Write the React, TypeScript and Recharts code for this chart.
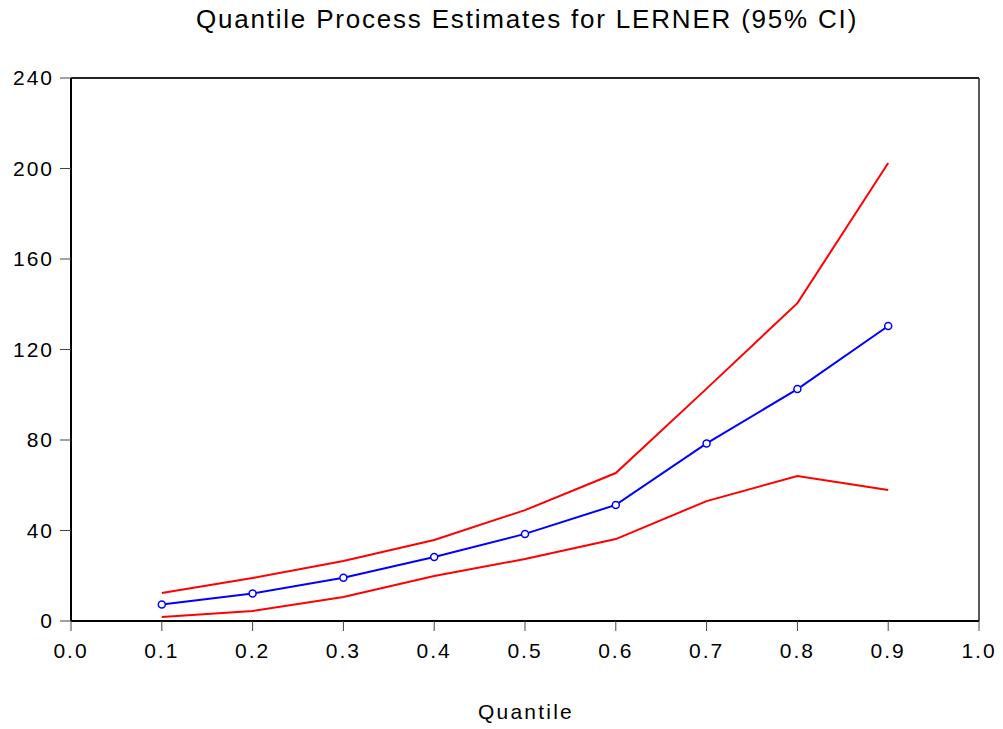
import React from "react";
import { LineChart, Line, XAxis, YAxis } from "recharts";

const quantiles = [0.1, 0.2, 0.3, 0.4, 0.5, 0.6, 0.7, 0.8, 0.9];
const estimate = [7.3, 12.2, 19.1, 28.3, 38.5, 51.3, 78.5, 102.5, 130.4];
const upperCI = [12.4, 19.0, 26.5, 35.8, 49.0, 65.4, 102.7, 140.5, 202.4];
const lowerCI = [1.8, 4.4, 10.6, 19.9, 27.4, 36.2, 53.0, 64.1, 57.9];
const xTicks = [0, 0.1, 0.2, 0.3, 0.4, 0.5, 0.6, 0.7, 0.8, 0.9, 1.0];
const yTicks = [0, 40, 80, 120, 160, 200, 240];

const data = quantiles.map((q, i) => ({
  q,
  est: estimate[i],
  hi: upperCI[i],
  lo: lowerCI[i],
}));

const FONT = "'Liberation Sans', Arial, sans-serif";

export default function App() {
  return (
    <div style={{ position: "absolute", left: 0, top: 0, width: 1003, height: 729, background: "#fff", fontFamily: FONT }}>
      <div
        style={{
          position: "absolute",
          top: 4,
          left: 0,
          width: 1054,
          textAlign: "center",
          fontSize: 26,
          lineHeight: "30px",
          letterSpacing: 1.8,
          color: "#000",
        }}
      >
        Quantile Process Estimates for LERNER (95% CI)
      </div>
      <div
        style={{
          position: "absolute",
          top: 700,
          left: 0,
          width: 1052,
          textAlign: "center",
          fontSize: 21,
          lineHeight: "24px",
          letterSpacing: 2.2,
          color: "#000",
        }}
      >
        Quantile
      </div>
      <LineChart
        width={1003}
        height={729}
        data={data}
        margin={{ top: 77, right: 23, bottom: 58, left: 11 }}
        style={{ fontFamily: FONT, position: "absolute", left: 0, top: 0 }}
      >
        <XAxis
          xAxisId="b"
          dataKey="q"
          type="number"
          domain={[0, 1]}
          ticks={xTicks}
          tickFormatter={(v: number) => v.toFixed(1)}
          axisLine={{ stroke: "#000", strokeWidth: 2 }}
          tickLine={{ stroke: "#444", strokeWidth: 1 }}
          tickSize={10}
          tick={{ fill: "#000", fontSize: 21, letterSpacing: 2 }}
          tickMargin={12}
          interval={0}
          height={50}
        />
        <XAxis
          xAxisId="t"
          orientation="top"
          dataKey="q"
          type="number"
          domain={[0, 1]}
          tick={false}
          tickLine={false}
          axisLine={{ stroke: "#222", strokeWidth: 2 }}
          height={1}
        />
        <YAxis
          yAxisId="l"
          type="number"
          domain={[0, 240]}
          ticks={yTicks}
          interval={0}
          axisLine={{ stroke: "#000", strokeWidth: 2 }}
          tickLine={{ stroke: "#444", strokeWidth: 1 }}
          tickSize={11}
          tick={{ fill: "#000", fontSize: 21, letterSpacing: 2 }}
          tickMargin={6}
          width={60}
        />
        <YAxis
          yAxisId="r"
          orientation="right"
          type="number"
          domain={[0, 240]}
          tick={false}
          tickLine={false}
          axisLine={{ stroke: "#222", strokeWidth: 1.5 }}
          width={1}
        />
        <Line
          xAxisId="b"
          yAxisId="l"
          dataKey="hi"
          stroke="#ff0000"
          strokeWidth={2}
          dot={false}
          isAnimationActive={false}
        />
        <Line
          xAxisId="b"
          yAxisId="l"
          dataKey="lo"
          stroke="#ff0000"
          strokeWidth={2}
          dot={false}
          isAnimationActive={false}
        />
        <Line
          xAxisId="b"
          yAxisId="l"
          dataKey="est"
          stroke="#0000ff"
          strokeWidth={2}
          dot={{ r: 3.5, fill: "#fff", stroke: "#0000ff", strokeWidth: 1.5 }}
          isAnimationActive={false}
        />
      </LineChart>
    </div>
  );
}
